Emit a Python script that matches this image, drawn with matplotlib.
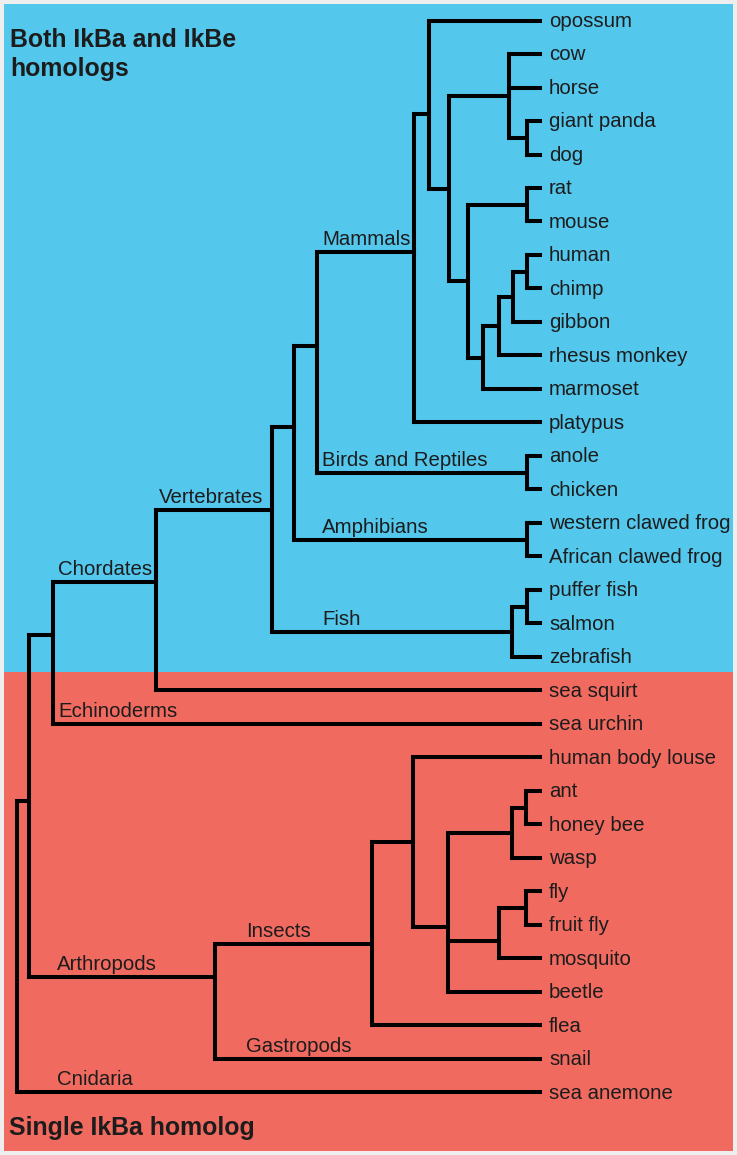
import matplotlib
matplotlib.use('Agg')
import matplotlib.pyplot as plt

plt.rcParams['font.family'] = ['Liberation Sans', 'DejaVu Sans']

# leaves, top to bottom, with the node they hang from
leaves = ['opossum', 'cow', 'horse', 'giant panda', 'dog', 'rat', 'mouse',
          'human', 'chimp', 'gibbon', 'rhesus monkey', 'marmoset', 'platypus',
          'anole', 'chicken', 'western clawed frog', 'African clawed frog',
          'puffer fish', 'salmon', 'zebrafish', 'sea squirt', 'sea urchin',
          'human body louse', 'ant', 'honey bee', 'wasp', 'fly', 'fruit fly',
          'mosquito', 'beetle', 'flea', 'snail', 'sea anemone']
leaf_parent = ['theria', 'laur', 'laur', 'carn', 'carn', 'rodent', 'rodent',
               'hc', 'hc', 'homin', 'catar', 'prim', 'mamm',
               'sauria', 'sauria', 'xenopus', 'xenopus',
               'pufsal', 'pufsal', 'fish', 'chord', 'deut',
               'ins2', 'antbee', 'antbee', 'hym', 'flies', 'flies',
               'dipt', 'holo', 'insect', 'proto', 'root']
leaf_depth = 540

# internal nodes: name, parent, depth (horizontal position)
node_names = ['root', 'bilat', 'deut', 'chord', 'vert', 'tetra', 'amnio',
              'mamm', 'theria', 'euth', 'laur', 'carn', 'euarch', 'rodent',
              'prim', 'catar', 'homin', 'hc', 'sauria', 'xenopus', 'fish',
              'pufsal', 'proto', 'insect', 'ins2', 'holo', 'hym', 'antbee',
              'dipt', 'flies']
node_parent = [None, 'root', 'bilat', 'deut', 'chord', 'vert', 'tetra',
               'amnio', 'mamm', 'theria', 'euth', 'laur', 'euth', 'euarch',
               'euarch', 'prim', 'catar', 'homin', 'amnio', 'tetra', 'vert',
               'fish', 'bilat', 'proto', 'insect', 'ins2', 'holo', 'hym',
               'holo', 'dipt']
node_depth = [17, 29, 53, 156, 272, 294, 317,
              414, 429, 449, 509, 527, 468, 527,
              483, 499, 513, 527, 527, 527, 512,
              527, 215, 372, 413, 448, 512, 526,
              499, 526]

# nodes whose branch is not drawn at the middle of its children (row units)
node_row_fixed = {'mamm': 6.91, 'theria': 2.79, 'amnio': 9.72, 'tetra': 12.13,
                  'vert': 14.61, 'chord': 16.76, 'deut': 18.34, 'bilat': 23.30,
                  'proto': 28.55, 'insect': 27.57, 'holo': 27.06, 'dipt': 27.48}

clade_labels = ['Mammals', 'Birds and Reptiles', 'Amphibians', 'Fish',
                'Vertebrates', 'Chordates', 'Echinoderms', 'Arthropods',
                'Cnidaria', 'Insects', 'Gastropods']
clade_target = ['mamm', 'sauria', 'xenopus', 'fish', 'vert', 'chord',
                'sea urchin', 'proto', 'sea anemone', 'insect', 'snail']
clade_x = [322, 322, 322, 322, 159, 58, 58, 57, 57, 246, 246]

both_rows = 19.45   # blue band ends between zebrafish and sea squirt

# ---- layout
depth = dict(zip(node_names, node_depth))
parent = dict(zip(node_names, node_parent))
for lf, p in zip(leaves, leaf_parent):
    depth[lf] = leaf_depth
    parent[lf] = p

children = {n: [] for n in node_names}
for n in node_names + leaves:
    if parent[n] is not None:
        children[parent[n]].append(n)

row = {lf: i for i, lf in enumerate(leaves)}


def get_row(n):
    if n in row:
        return row[n]
    rs = [get_row(c) for c in children[n]]
    row[n] = node_row_fixed.get(n, (min(rs) + max(rs)) / 2)
    return row[n]


get_row('root')

fig = plt.figure(figsize=(7.37, 11.55), dpi=100, facecolor='#eeeeee')
ax = fig.add_axes([0, 0, 1, 1])
ax.set_xlim(0, 737)
ax.set_ylim(33.866, -0.612)
ax.axis('off')

blue = '#53C7EC'
red = '#F16A60'
x0, x1 = 4 / 737, 733 / 737
ax.axhspan(-0.4925, both_rows, xmin=x0, xmax=x1, color=blue, lw=0, zorder=0)
ax.axhspan(both_rows, 33.746, xmin=x0, xmax=x1, color=red, lw=0, zorder=0)

lw = 2.9
for n in node_names:
    rs = [row[c] for c in children[n]]
    ax.plot([depth[n], depth[n]], [min(rs), max(rs)], color='black', lw=lw,
            solid_capstyle='projecting', zorder=2)
    for c in children[n]:
        ax.plot([depth[n], depth[c]], [row[c], row[c]], color='black', lw=lw,
                solid_capstyle='projecting', zorder=2)

txt = '#1c1c1c'
fs = 14.7
for lf in leaves:
    ax.text(leaf_depth + 9, row[lf] + 0.18, lf, fontsize=fs, color=txt,
            ha='left', va='baseline', zorder=3)

for lab, tgt, lx in zip(clade_labels, clade_target, clade_x):
    ax.text(lx, row[tgt] - 0.209, lab, fontsize=fs, color=txt,
            ha='left', va='baseline', zorder=3)

ax.text(10, (47 - 20.5) / 33.5, 'Both IkBa and IkBe', fontsize=17.9,
        fontweight='bold', color=txt, ha='left', va='baseline')
ax.text(10, (76 - 20.5) / 33.5, 'homologs', fontsize=17.9,
        fontweight='bold', color=txt, ha='left', va='baseline')
ax.text(9.5, (1135 - 20.5) / 33.5, 'Single IkBa homolog', fontsize=17.9,
        fontweight='bold', color=txt, ha='left', va='baseline')

fig.savefig('out.png', dpi=100, facecolor=fig.get_facecolor())
